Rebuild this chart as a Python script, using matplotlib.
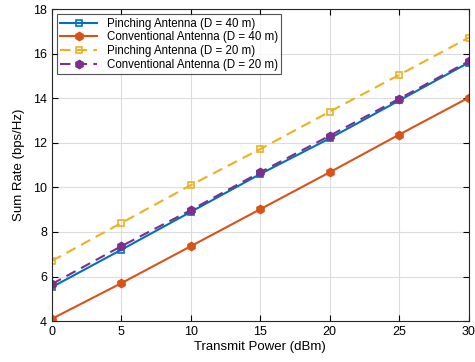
import matplotlib.pyplot as plt

power = [0, 5, 10, 15, 20, 25, 30]
pinch_40 = [5.52, 7.2, 8.9, 10.6, 12.2, 13.9, 15.6]
conv_40 = [4.1, 5.7, 7.36, 9.02, 10.68, 12.37, 14.03]
pinch_20 = [6.7, 8.4, 10.1, 11.72, 13.4, 15.05, 16.72]
conv_20 = [5.66, 7.36, 8.98, 10.68, 12.32, 13.98, 15.66]

plt.rcParams['font.family'] = 'Liberation Sans'

fig = plt.figure(figsize=(4.75, 3.62), dpi=100)
ax = fig.add_axes([0.109, 0.113, 0.878, 0.862])

ax.plot(power, pinch_40, color="#0072BD", lw=1.5, marker="s", ms=5, mfc="none", mew=1.2,
        label="Pinching Antenna (D = 40 m)")
ax.plot(power, conv_40, color="#D95319", lw=1.5, marker="h", ms=6,
        label="Conventional Antenna (D = 40 m)")
ax.plot(power, pinch_20, color="#EDB120", lw=1.5, ls=(0, (5, 3)), marker="s", ms=5, mfc="none", mew=1.2,
        label="Pinching Antenna (D = 20 m)")
ax.plot(power, conv_20, color="#7E2F8E", lw=1.5, ls=(0, (5, 3)), marker="h", ms=6,
        label="Conventional Antenna (D = 20 m)")

ax.set_xlim(0, 30)
ax.set_ylim(4, 18)
ax.set_xticks(power)
ax.set_yticks(range(4, 19, 2))
ax.grid(True, color="#dcdcdc", lw=0.8)
ax.set_axisbelow(True)
ax.tick_params(direction="in", top=True, right=True, labelsize=9, length=4)
for s in ax.spines.values():
    s.set_color("#262626")
ax.set_xlabel("Transmit Power (dBm)", fontsize=9.5, labelpad=2)
ax.set_ylabel("Sum Rate (bps/Hz)", fontsize=9.5, labelpad=6)

leg = ax.legend(loc="upper left", fontsize=8.3, handlelength=3.2, borderpad=0.3,
                labelspacing=0.15, fancybox=False, edgecolor="#262626", borderaxespad=0.45)
leg.get_frame().set_linewidth(0.8)

fig.savefig("out.png", dpi=100)
